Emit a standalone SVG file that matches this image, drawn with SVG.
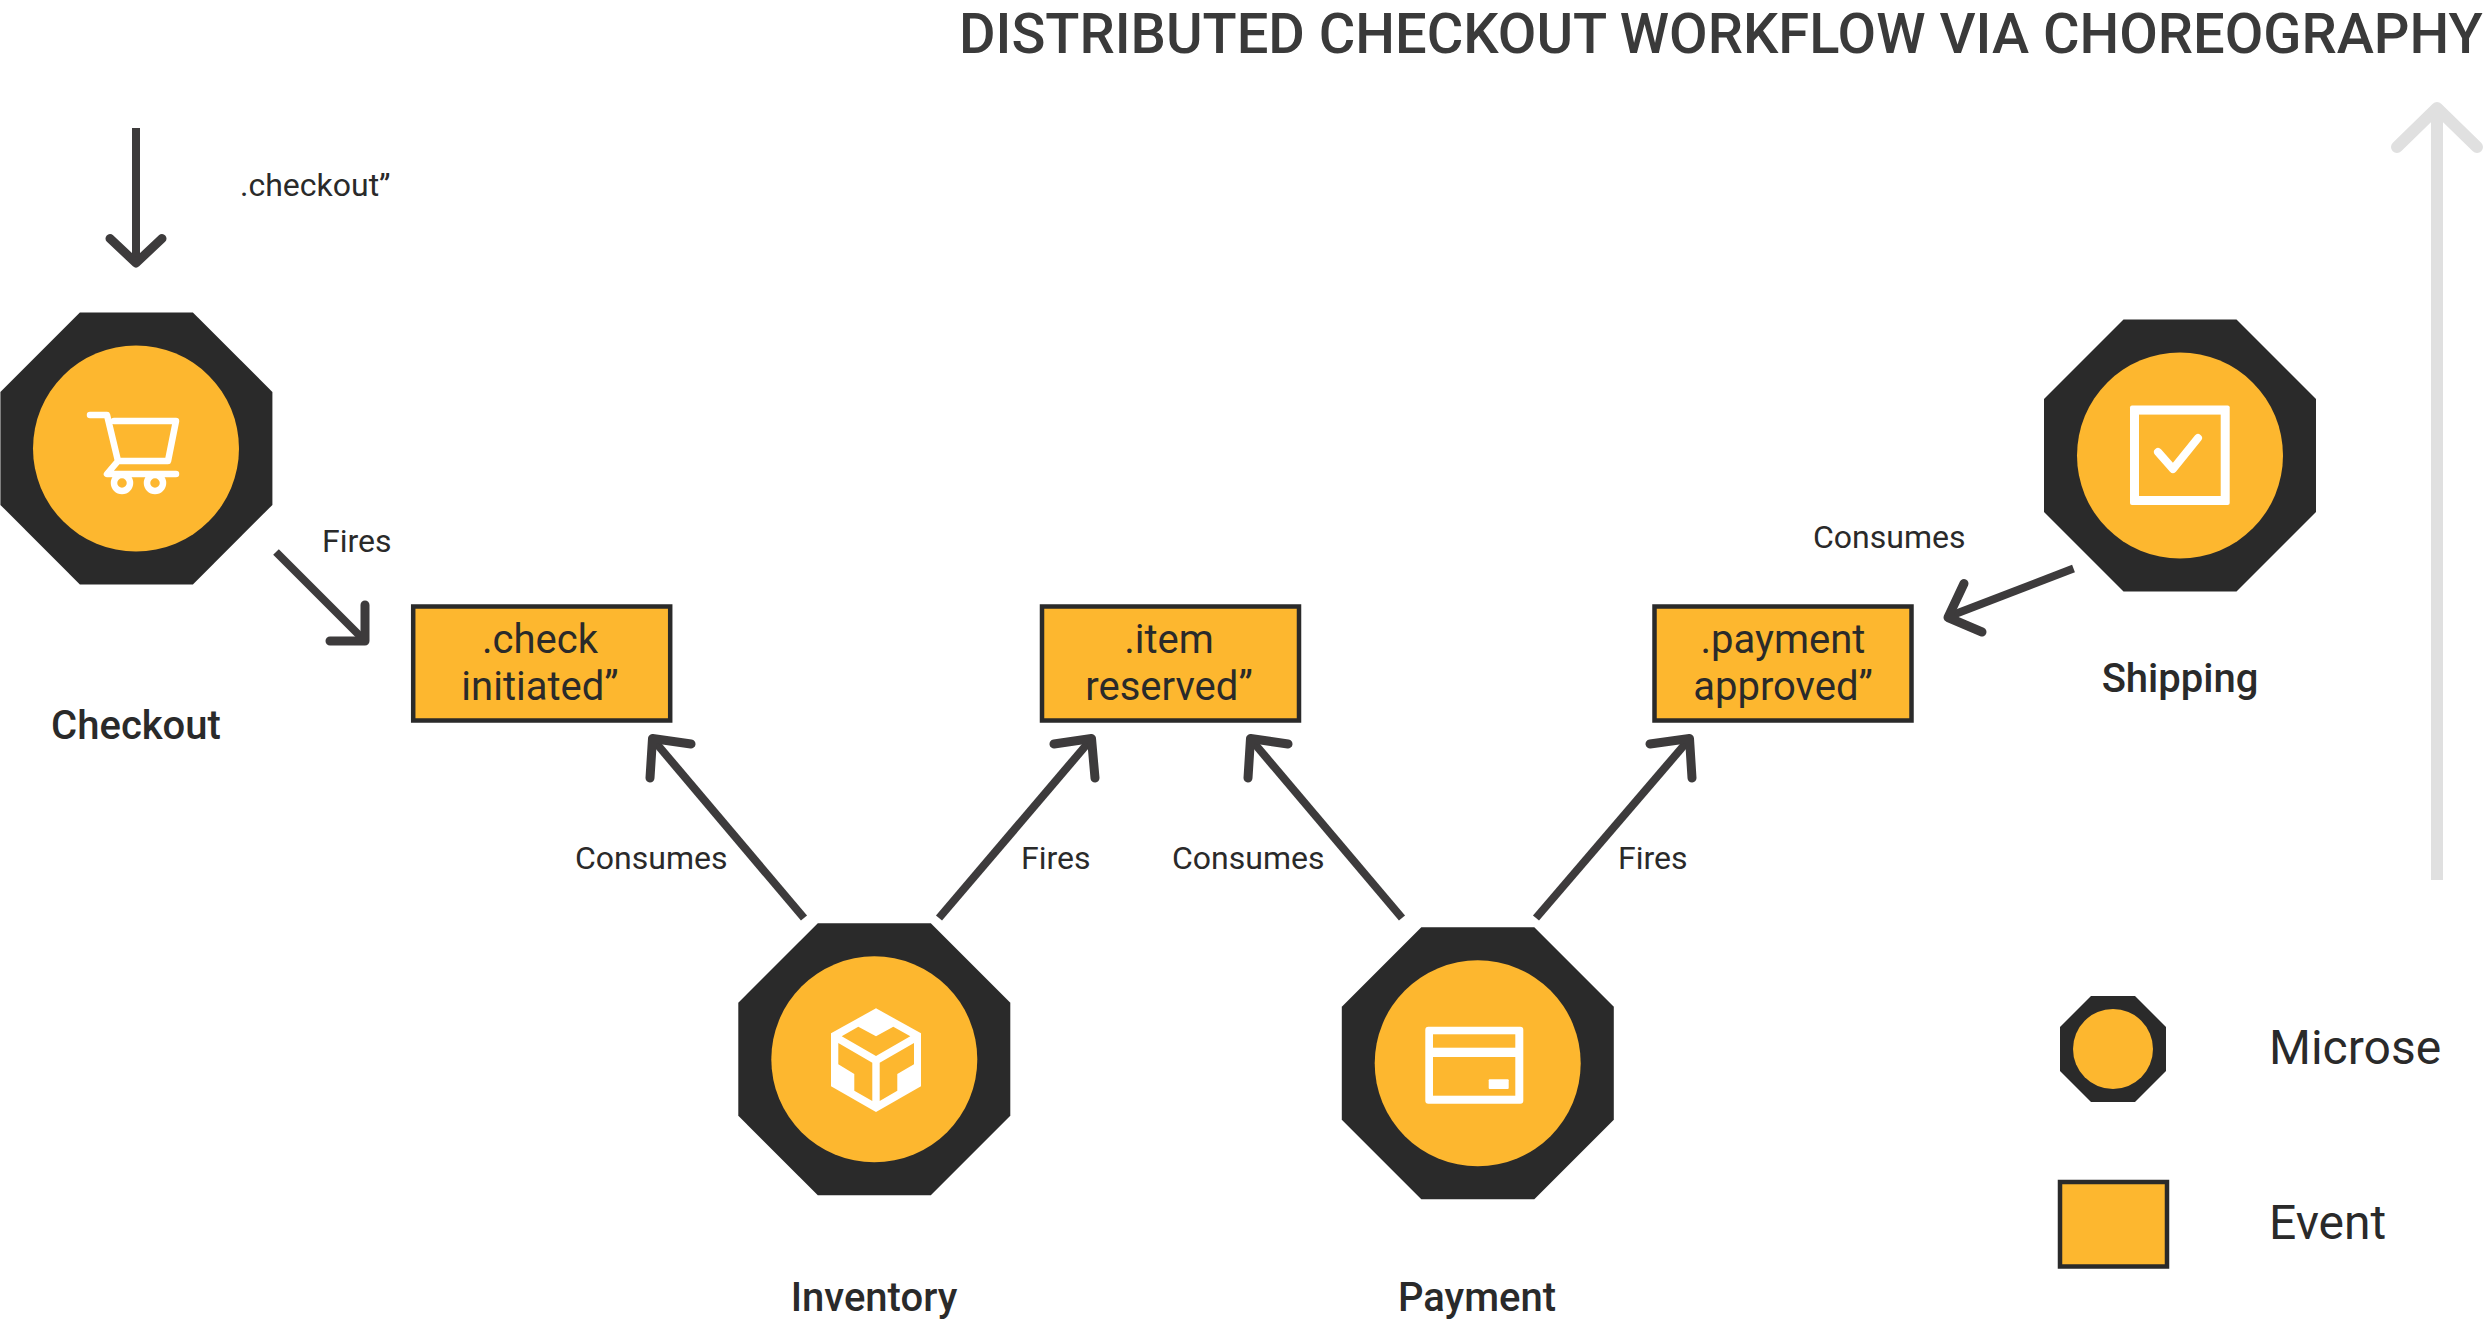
<svg xmlns="http://www.w3.org/2000/svg" width="2483" height="1322" viewBox="0 0 2483 1322">
<defs>
<style>
text{font-family:Roboto,"Liberation Sans",sans-serif;fill:#2a2a2a}
.title{font-size:56px;font-weight:500;fill:#3a3a3a}
.edge{font-size:32px}
.name{font-size:40px;font-weight:500;text-anchor:middle}
.ev{font-size:40px;text-anchor:middle}
.leg{font-size:48px}
.oct{fill:#2a2a2a}
.cir{fill:#fdb72f}
.rect{fill:#fdb72f;stroke:#2a2a2a;stroke-width:4.5}
.ln{fill:none;stroke:#3d3b3c;stroke-width:8}
.hd{fill:none;stroke:#3d3b3c;stroke-width:9;stroke-linecap:round;stroke-linejoin:round}
.ic{fill:none;stroke:#fff;stroke-width:6.5;stroke-linecap:round;stroke-linejoin:round}
.wh{fill:#fff}
.or{fill:#fdb72f}
</style>
<polygon id="octagon" points="-56.5,-136 56.5,-136 136,-56.5 136,56.5 56.5,136 -56.5,136 -136,56.5 -136,-56.5"/>
</defs>
<rect width="2483" height="1322" fill="#fff"/>
<text class="title" x="959" y="53">DISTRIBUTED CHECKOUT WORKFLOW VIA CHOREOGRAPHY</text>
<g id="connectors">
<path class="ln" d="M136 128V263"/><path class="hd" d="M110 238.5L136 263L162 238.5"/>
<path class="ln" d="M276 552L362 638"/><path class="hd" d="M365 605V641H330"/>
<path class="ln" d="M804 918L656 743"/><path class="hd" d="M691 744L652.500 738.500L650 778"/>
<path class="ln" d="M939 918L1088 743"/><path class="hd" d="M1054 744L1091.500 738.500L1095 778"/>
<path class="ln" d="M1402 918L1254 743"/><path class="hd" d="M1288 744L1250.500 738.500L1248 778"/>
<path class="ln" d="M1536 918L1686 743"/><path class="hd" d="M1650 744L1689.500 738.500L1692 778"/>
<path class="ln" d="M2073.5 568.5L1950 616"/><path class="hd" d="M1964 583.500L1948 617.500L1982 632"/>
<path fill="none" stroke="#e0e0e0" stroke-width="12" d="M2437 880V110"/>
<path fill="none" stroke="#e0e0e0" stroke-width="12" stroke-linecap="round" stroke-linejoin="round" d="M2397 147L2437 108L2477 147"/>
</g>
<g id="edge-labels">
<text class="edge" x="240" y="196">.checkout”</text>
<text class="edge" x="322" y="552">Fires</text>
<text class="edge" x="575" y="869">Consumes</text>
<text class="edge" x="1021" y="869">Fires</text>
<text class="edge" x="1172" y="869">Consumes</text>
<text class="edge" x="1618" y="869">Fires</text>
<text class="edge" x="1813" y="548">Consumes</text>
</g>
<g id="checkout">
<use href="#octagon" class="oct" transform="translate(136.4 448.4)"/>
<circle class="cir" cx="136" cy="448.5" r="103"/>
<path class="ic" d="M90 415H107L118 461M114 421H176L168 461H118L107 474H176"/>
<circle class="ic" cx="122" cy="483" r="8"/><circle class="ic" cx="155" cy="483" r="8"/>
<text class="name" x="136" y="739">Checkout</text>
</g>
<g id="inventory">
<use href="#octagon" class="oct" transform="translate(874.3 1059.3)"/>
<circle class="cir" cx="874.3" cy="1059.3" r="103"/>
<polygon class="wh" points="876,1008.3 921,1033.3 921,1086.3 876,1112 831,1086.3 831,1033.3"/>
<polygon class="or" points="858.3,1026.7 876,1036.3 893.3,1026.7 910.3,1036.3 876,1056 841.7,1036.3"/>
<polygon class="or" points="838.3,1043 872.3,1062.7 872.3,1101 854.3,1090.7 854.3,1074 838.3,1064.3"/>
<polygon class="or" points="914,1043 879.7,1062.7 879.7,1101 897.3,1090.7 897.3,1074 914,1064.3"/>
<text class="name" x="874" y="1311">Inventory</text>
</g>
<g id="payment">
<use href="#octagon" class="oct" transform="translate(1477.8 1063.3)"/>
<circle class="cir" cx="1477.7" cy="1063.3" r="103"/>
<rect class="wh" x="1425.3" y="1026.7" width="98" height="77" rx="3"/>
<rect class="or" x="1433" y="1034.3" width="82.3" height="13.4"/>
<rect class="or" x="1433" y="1057" width="82.3" height="38.7"/>
<rect class="wh" x="1488.7" y="1079.3" width="20" height="9.7" rx="1"/>
<text class="name" x="1477" y="1311">Payment</text>
</g>
<g id="shipping">
<use href="#octagon" class="oct" transform="translate(2180 455.5)"/>
<circle class="cir" cx="2180" cy="455.5" r="103"/>
<rect class="wh" x="2130" y="405.4" width="99.7" height="99.6" rx="2"/>
<rect class="or" x="2139" y="414.6" width="81.7" height="81.4"/>
<path class="ic" style="stroke-width:8" d="M2158 452L2173 469L2198 438"/>
<text class="name" x="2180" y="691.500">Shipping</text>
</g>
<g id="event-check-initiated">
<rect class="rect" x="413.2" y="606.5" width="257" height="114"/>
<text class="ev" x="540" y="652.500">.check</text><text class="ev" x="540" y="700">initiated”</text>
</g>
<g id="event-item-reserved">
<rect class="rect" x="1042" y="606.5" width="257" height="114"/>
<text class="ev" x="1169" y="652.500">.item</text><text class="ev" x="1169" y="700">reserved”</text>
</g>
<g id="event-payment-approved">
<rect class="rect" x="1654.5" y="606.5" width="257" height="114"/>
<text class="ev" x="1783" y="652.500">.payment</text><text class="ev" x="1783" y="700">approved”</text>
</g>
<g id="legend-microservice">
<polygon class="oct" points="2091,996 2135,996 2166,1027 2166,1071 2135,1102 2091,1102 2060,1071 2060,1027"/>
<circle class="cir" cx="2113" cy="1049" r="40"/>
<text class="leg" x="2269" y="1063.500">Microse</text>
</g>
<g id="legend-event">
<rect class="rect" x="2060" y="1182" width="107" height="84.5"/>
<text class="leg" x="2269" y="1238.500">Event</text>
</g>
</svg>
